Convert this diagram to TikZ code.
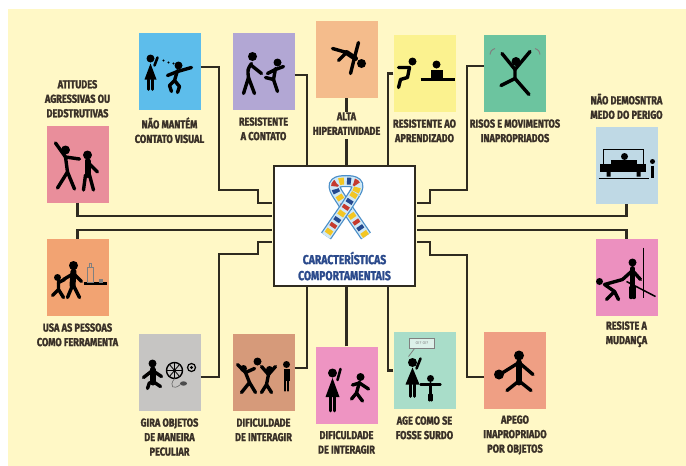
\documentclass[tikz,border=0pt]{standalone}
\usepackage{fontspec}
\setmainfont{Fira Sans}
\newfontfamily\tagfont{Fira Sans}[FakeStretch=0.8, FakeBold=1.6]
\usetikzlibrary{positioning}

\definecolor{cream}{HTML}{FFF8C6}
\definecolor{wire}{HTML}{2F2B20}
\definecolor{ink}{HTML}{3A3128}
\definecolor{hubblue}{HTML}{2B4A8C}
\definecolor{ribbonedge}{HTML}{4A8EC8}
\definecolor{ribbonsky}{HTML}{CFE8F6}
\definecolor{puzzleyellow}{HTML}{F3C623}
\definecolor{puzzlered}{HTML}{C53A2E}
\definecolor{puzzlenavy}{HTML}{24498F}
% card fills
\definecolor{rose}{HTML}{E98E9B}
\definecolor{sky}{HTML}{5DBDEB}
\definecolor{lilac}{HTML}{B2A7D4}
\definecolor{peach}{HTML}{F4BC8C}
\definecolor{lemon}{HTML}{FBF28F}
\definecolor{jade}{HTML}{6CC49F}
\definecolor{frost}{HTML}{BFD9E5}
\definecolor{orchid}{HTML}{EC90BF}
\definecolor{salmon}{HTML}{EF9F84}
\definecolor{mint}{HTML}{A9DDC9}
\definecolor{candy}{HTML}{EE94C2}
\definecolor{clay}{HTML}{D69A7A}
\definecolor{stone}{HTML}{C6C5C3}
\definecolor{apricot}{HTML}{F2A372}

% one band of the ribbon, given as a path
\newcommand{\ribbonpart}[1]{%
  \draw[line width=12pt, draw=ribbonedge] #1;
  \draw[line width=9.5pt, draw=ribbonsky] #1;
  \draw[line width=7pt, draw=puzzleyellow, dash pattern=on 5pt off 17pt] #1;
  \draw[line width=7pt, draw=puzzlered, dash pattern=on 4pt off 18pt, dash phase=7pt] #1;
  \draw[line width=7pt, draw=puzzlenavy, dash pattern=on 4pt off 18pt, dash phase=14pt] #1;
}

\begin{document}
\begin{tikzpicture}[
x=1pt, y=-1pt,
card/.style={minimum width=62pt, minimum height=77pt, inner sep=0pt},
tag/.style={font=\tagfont\bfseries\fontsize{11.5}{14.5}\selectfont, text=ink, align=center, inner sep=0pt,
  execute at begin node=\strut, execute at end node=\strut},
hub/.style={draw=wire, line width=2.6pt, fill=white, minimum width=141pt, minimum height=120pt},
link/.style={draw=wire, line width=2.4pt},
limb/.style={line width=3.4pt, line cap=round, line join=round}
]

\useasboundingbox (0,0) rectangle (686,466);
\fill[white] (0,0) rectangle (686,466);
\fill[cream] (8,9) rectangle (686,466);

% boxes round the hub
\node[card, fill=rose] (agress) at (77.5,164) {};
\node[card, fill=sky] (visual) at (169.5,71.5) {};
\node[card, fill=lilac] (contato) at (263.5,71.5) {};
\node[card, fill=peach] (hiper) at (346.5,59.5) {};
\node[card, fill=lemon] (aprend) at (424.5,73.5) {};
\node[card, fill=jade] (risos) at (515,73.5) {};
\node[card, fill=frost] (perigo) at (626.5,165.5) {};
\node[card, fill=orchid] (mudanca) at (626.5,277.5) {};
\node[card, fill=salmon] (apego) at (515,370.5) {};
\node[card, fill=mint] (surdo) at (424.5,370.5) {};
\node[card, fill=candy] (interagirB) at (346.5,385) {};
\node[card, fill=clay] (interagirA) at (263.5,372.5) {};
\node[card, fill=stone] (gira) at (169.5,372.5) {};
\node[card, fill=apricot] (ferramenta) at (77.5,277.5) {};

% connectors
\draw[link] ([yshift=4.5pt]visual.east) -| (219,190) -| (258,203) -- (272,203);
\draw[link] ([yshift=-3.5pt]contato.east) -| (307,166);
\draw[link] (hiper.south) -- (346.5,166);
\draw[link] (aprend.west) -| (388,166);
\draw[link] ([yshift=7.5pt]risos.west) -| (467,190) -| (430,203) -- (417,203);
\draw[link] (perigo.south) |- (417,216);
\draw[link] (agress.south) |- (272,216);
\draw[link] (ferramenta.north) |- (272,230);
\draw[link] (mudanca.north) |- (417,230);
\draw[link] ([yshift=-6.5pt]apego.west) -| (467,255) -| (430,242) -- (417,242);
\draw[link] ([yshift=-4.5pt]gira.east) -| (219,254) -| (258,242) -- (272,242);
\draw[link] ([yshift=4.5pt]interagirA.east) -| (307,286);
\draw[link] (interagirB.north) -- (346.5,286);
\draw[link] (surdo.west) -| (388,286);

\node[hub] (hub) at (344.5,226) {};

% pictograms
\begin{scope}[shift={(agress.center)}]
  \fill (-12,-14) circle (4.5pt);
  \draw[limb] (-22,-21) -- (-12,-7) -- (2,-5);
  \draw[limb] (-12,-7) -- (-10,8) -- (-20,24);
  \draw[limb] (-10,8) -- (-3,25);
  \fill (10,-9) circle (4.5pt);
  \draw[limb, line width=6pt] (10,-3) -- (10,11);
  \draw[limb] (8,11) -- (6,26);
  \draw[limb] (12,11) -- (16,26);
  \draw[limb] (10,-2) -- (20,8);
\end{scope}

\begin{scope}[shift={(visual.center)}]
  \fill (-19,-13) circle (4pt);
  \fill (-19,-8) -- (-25,8) -- (-13,8) -- cycle;
  \draw[limb, line width=2.6pt] (-21,8) -- (-21,18) (-17,8) -- (-17,18);
  \draw[limb, line width=2.6pt] (-15,-6) -- (-12,-14);
  \foreach \dx/\dy in {-6/-11, -1/-9, 4/-8} \fill (\dx,\dy) circle (1.1pt);
  \fill (9,-6) circle (4pt);
  \draw[limb] (-2,4) -- (8,0) -- (22,-4);
  \draw[limb] (8,-1) -- (5,9) -- (0,14) -- (2,20);
  \draw[limb] (5,9) -- (10,15) -- (8,21);
\end{scope}

\begin{scope}[shift={(contato.center)}]
  \fill (-11,-15) circle (4.5pt);
  \draw[limb] (-12,-8) .. controls (-16,-2) .. (-15,6);
  \draw[limb] (-12,-6) -- (-2,2);
  \draw[limb] (-15,6) -- (-20,22) (-15,6) -- (-9,22);
  \fill (14,-9) circle (4pt);
  \draw[limb] (4,2) -- (12,-2) -- (20,-5);
  \draw[limb] (12,-3) -- (10,8) -- (2,6);
  \draw[limb] (10,8) -- (14,20);
\end{scope}

\begin{scope}[shift={(hiper.center)}]
  \fill (15,4) circle (4.5pt);
  \draw[limb, line width=5pt] (9,-1) -- (0,-7);
  \draw[limb] (0,-7) -- (-14,-11) (0,-7) -- (-8,1);
  \draw[limb] (8,-2) -- (12,-17) (8,-2) -- (4,14);
\end{scope}

\begin{scope}[shift={(aprend.center)}]
  \fill (-12,-12) circle (4pt);
  \draw[limb] (-26,-6) -- (-15,-6) -- (-17,4) -- (-24,6) -- (-26,14);
  \draw[line width=2.2pt] (-4,6) -- (30,6);
  \fill (12,-9) circle (4pt);
  \fill (6,-4) rectangle (18,5);
\end{scope}

\begin{scope}[shift={(risos.center)}]
  \fill (1,-12) circle (4.5pt);
  \draw[limb] (-13,-20) -- (0,-4) -- (15,-22);
  \draw[limb] (0,-5) -- (0,5) -- (-14,12);
  \draw[limb] (0,5) -- (14,21);
  \draw[gray, line width=1pt] (-25,-19) .. controls (-24,-23) .. (-20,-25);
  \draw[gray, line width=1pt] (25,-19) .. controls (24,-23) .. (20,-25);
\end{scope}

\begin{scope}[shift={(perigo.center)}]
  \draw[line width=1.5pt] (-23,-16) rectangle (17,-1);
  \fill (-2,-9) circle (3.5pt);
  \draw[line width=4pt] (-16,-4) -- (10,-4);
  \fill (-27,-2) rectangle (19,6);
  \fill (-20,6) rectangle (-16,11) (10,6) rectangle (14,11);
  \draw[line width=1.8pt] (-28,13) -- (22,13);
  \fill (26,-4) circle (2.5pt);
  \draw[line width=3pt] (26,0) -- (26,12);
\end{scope}

\begin{scope}[shift={(mudanca.center)}]
  \draw[line width=1.8pt] (17,-30) -- (17,20);
  \draw[line width=1.5pt] (0,4) -- (29,19);
  \fill (6,-15) circle (4pt);
  \draw[limb, line width=5pt] (6,-9) -- (6,10);
  \draw[limb] (4.5,10) -- (4.5,20) (7.5,10) -- (7.5,20);
  \draw[limb] (-4,2) -- (6,-7) -- (14,2);
  \fill (-27,4) circle (3.5pt);
  \draw[limb] (-4,2) -- (-22,7) -- (-12,14) -- (-20,22);
  \draw[limb] (-12,14) -- (-8,22);
\end{scope}

\begin{scope}[shift={(apego.center)}]
  \fill (4,-15) circle (5pt);
  \draw[limb] (-12,2) -- (4,-8) -- (18,4);
  \draw[limb, line width=6pt] (4,-8) -- (4,12);
  \draw[limb] (2,12) -- (-8,20) (6,12) -- (16,20);
  \fill (-16,4) circle (5pt);
\end{scope}

\begin{scope}[shift={(surdo.center)}]
  \draw[gray, line width=0.8pt, fill=white!60!mint] (-15,-32) rectangle (10,-22);
  \draw[gray, line width=0.8pt] (-10,-22) -- (-16,-14);
  \node[font=\fontsize{4}{4}\selectfont, text=gray, inner sep=0pt] (oioi) at (-2.5,-27) {OI? OI?};
  \fill (-12,-8) circle (4.5pt);
  \fill (-12,-3) -- (-19,14) -- (-5,14) -- cycle;
  \draw[limb, line width=2.8pt] (-14,14) -- (-14,26) (-10,14) -- (-10,26);
  \draw[limb, line width=2.6pt] (-8,-2) -- (-4,-12);
  \fill (6,8) circle (3.5pt);
  \draw[limb, line width=2.4pt] (-4,14) -- (16,14);
  \draw[limb] (6,13) -- (6,24);
  \draw[limb, line width=2.2pt] (5,24) -- (5,30) (7,24) -- (7,30);
\end{scope}

\begin{scope}[shift={(interagirB.center)}]
  \fill (-14,-12) circle (4.5pt);
  \fill (-14,-7) -- (-21,12) -- (-7,12) -- cycle;
  \draw[limb, line width=2.8pt] (-16,12) -- (-16,26) (-12,12) -- (-12,26);
  \draw[limb, line width=2.6pt] (-9,-5) -- (-6,-16);
  \fill (14,-8) circle (4pt);
  \draw[limb] (6,0) -- (13,-2) -- (22,4);
  \draw[limb] (13,-3) -- (10,8) -- (5,14);
  \draw[limb] (10,8) -- (16,16);
\end{scope}

\begin{scope}[shift={(interagirA.center)}]
  \fill (-6,-11) circle (4pt);
  \fill (-20,-4) circle (3.5pt);
  \draw[limb] (-26,-8) -- (-18,0) -- (-9,-4);
  \draw[limb] (-18,0) -- (-14,10) -- (-22,20) (-14,10) -- (-8,20);
  \fill (6,-3) circle (3.5pt);
  \draw[limb] (-2,-6) -- (5,2) -- (12,-6);
  \draw[limb] (5,2) -- (3,12) -- (-2,20) (3,12) -- (8,20);
  \fill (23,-8) circle (3.5pt);
  \fill (20,-4) rectangle (26,8);
  \draw[limb, line width=2.6pt] (21.5,8) -- (21.5,18) (24.5,8) -- (24.5,18);
\end{scope}

\begin{scope}[shift={(gira.center)}]
  \fill (-17,-9) circle (4pt);
  \draw[limb, line width=6pt] (-17,-3) -- (-17,10);
  \draw[limb] (-26,5) -- (-17,-2) -- (-8,4);
  \draw[limb] (-20,10) -- (-22,16) (-15,10) -- (-9,14);
  \draw[line width=1.4pt] (5,-2) circle (8pt);
  \draw[line width=0.8pt] (5,-10) -- (5,6) (-3,-2) -- (13,-2) (0,-8) -- (10,4) (0,4) -- (10,-8);
  \draw[line width=1.2pt] (22,-5) circle (4pt);
  \fill (22,-5) circle (1.6pt);
  \fill[black!70] (14,11) ellipse (3.5pt and 2.2pt);
  \draw[black!60, line width=0.6pt] (5,6) .. controls (-1,14) and (4,18) .. (11,12);
\end{scope}

\begin{scope}[shift={(ferramenta.center)}]
  \fill (-4,-12) circle (4.5pt);
  \draw[limb, line width=6pt] (-4,-6) -- (-5,8);
  \draw[limb] (-5,8) -- (-10,20) (-4,8) -- (2,20);
  \draw[limb] (-14,2) -- (-4,-4) -- (4,4);
  \fill (-20,0) circle (3.5pt);
  \draw[limb] (-19,4) -- (-19,12) -- (-25,18) (-19,12) -- (-14,20);
  \draw[limb] (-19,5) -- (-13,2);
  \draw[line width=2.5pt] (6,6) -- (29,6);
  \draw[gray, line width=1pt] (10,-10) rectangle (16,5) (12,-14) rectangle (14,-10);
  \fill[gray] (21,1) rectangle (25,5);
\end{scope}

% labels
\node[tag, above=3.5pt of agress] (agress-txt) {ATITUDES\\AGRESSIVAS OU\\DEDSTRUTIVAS};
\node[tag, below=7pt of visual] (visual-txt) {NÃO MANTÉM\\CONTATO VISUAL};
\node[tag, below=7pt of contato] (contato-txt) {RESISTENTE\\A CONTATO};
\node[tag, below=14pt of hiper, fill=cream] (hiper-txt) {ALTA\\HIPERATIVIDADE};
\node[tag, below=7pt of aprend] (aprend-txt) {RESISTENTE AO\\APRENDIZADO};
\node[tag, below=7pt of risos] (risos-txt) {RISOS E MOVIMENTOS\\INAPROPRIADOS};
\node[tag, above=3.5pt of perigo] (perigo-txt) {NÃO DEMOSNTRA\\MEDO DO PERIGO};
\node[tag, below=5pt of mudanca] (mudanca-txt) {RESISTE A\\MUDANÇA};
\node[tag, below=6pt of apego] (apego-txt) {APEGO\\INAPROPRIADO\\POR OBJETOS};
\node[tag, below=7pt of surdo] (surdo-txt) {AGE COMO SE\\FOSSE SURDO};
\node[tag, below=7pt of interagirB] (interagirB-txt) {DIFICULDADE\\DE INTERAGIR};
\node[tag, below=7pt of interagirA] (interagirA-txt) {DIFICULDADE\\DE INTERAGIR};
\node[tag, below=7pt of gira] (gira-txt) {GIRA OBJETOS\\DE MANEIRA\\PECULIAR};
\node[tag, below=7pt of ferramenta] (ferramenta-txt) {USA AS PESSOAS\\COMO FERRAMENTA};

% ribbon and title inside the hub
\ribbonpart{(366,236) -- (346,207) -- (337,193) .. controls (331,183) and (337,181) .. (346,181) .. controls (355,181) and (361,183) .. (355,193)}
\ribbonpart{(355,193) -- (346,207) -- (326,236)}
\node[font=\tagfont\bfseries\fontsize{13}{16}\selectfont, text=hubblue, align=center, inner sep=0pt,
  execute at begin node=\strut, anchor=north] (title) at (344.5,251.5) {CARACTERÍSTICAS\\COMPORTAMENTAIS};

\end{tikzpicture}
\end{document}
